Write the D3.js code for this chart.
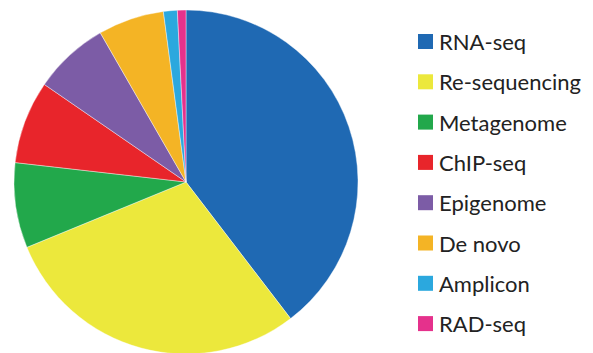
<!DOCTYPE html>
<html>
<head>
<meta charset="utf-8">
<script src="https://cdn.jsdelivr.net/npm/d3@7"></script>
<style>
  html, body { margin: 0; padding: 0; background: #fff; }
  svg { display: block; }
</style>
</head>
<body>
<svg id="chart" width="593" height="353"></svg>
<script>
// Share of sequencing applications (%)
const categories = ["RNA-seq", "Re-sequencing", "Metagenome", "ChIP-seq", "Epigenome", "De novo", "Amplicon", "RAD-seq"];
const values = [39.6, 29.2, 8.0, 7.8, 7.1, 6.2, 1.3, 0.8];
const colors = ["#1f69b3", "#ece83c", "#22a84b", "#e8252b", "#7c5ca6", "#f4b425", "#2ba8de", "#e5318c"];

const svg = d3.select("#chart");
const cx = 186, cy = 182, radius = 172;

const data = categories.map((c, i) => ({ name: c, value: values[i], color: colors[i] }));

const pie = d3.pie().value(d => d.value).sort(null);
const arc = d3.arc().innerRadius(0).outerRadius(radius);

svg.append("g")
  .attr("transform", `translate(${cx},${cy})`)
  .selectAll("path")
  .data(pie(data))
  .join("path")
  .attr("d", arc)
  .attr("fill", d => d.data.color)
  .attr("stroke", "#fff")
  .attr("stroke-width", 0.4);

// Legend
const legend = svg.append("g").attr("transform", "translate(418,34)");
const rowH = 40.3;
const rows = legend.selectAll("g")
  .data(data)
  .join("g")
  .attr("transform", (d, i) => `translate(0,${i * rowH})`);

rows.append("rect")
  .attr("x", 0).attr("y", 0)
  .attr("width", 15).attr("height", 15)
  .attr("fill", d => d.color);

rows.append("text")
  .attr("x", 21).attr("y", 16)
  .attr("font-family", "Lato, 'Open Sans', sans-serif")
  .attr("font-size", 22)
  .attr("fill", "#222")
  .text(d => d.name);
</script>
</body>
</html>
